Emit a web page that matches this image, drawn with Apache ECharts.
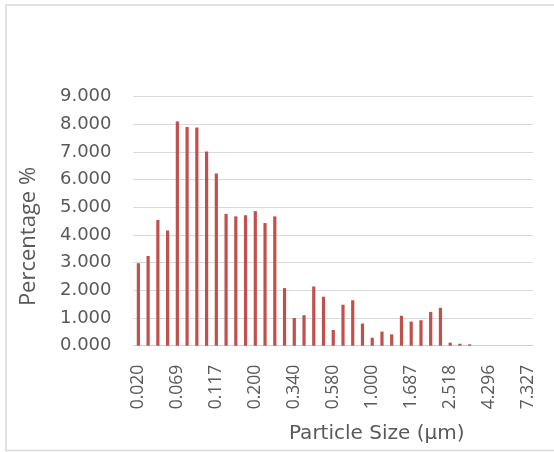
<!DOCTYPE html>
<html>
<head>
<meta charset="utf-8">
<script src="https://cdn.jsdelivr.net/npm/echarts@6/dist/echarts.min.js"></script>
<style>
html,body{margin:0;padding:0;background:#fff;}
#c{width:554px;height:452px;}
</style>
</head>
<body>
<div id="c"></div>
<script>
var categories = [
  '0.020','0.027','0.037','0.051',
  '0.069','0.079','0.090','0.103',
  '0.117','0.134','0.153','0.175',
  '0.200','0.228','0.261','0.298',
  '0.340','0.389','0.444','0.507',
  '0.580','0.665','0.762','0.873',
  '1.000','1.140','1.299','1.480',
  '1.687','1.865','2.061','2.278',
  '2.518','2.878','3.289','3.759',
  '4.296','4.910','5.611','6.412',
  '7.327'
];
var percentages = [
  2.98, 3.24, 4.54, 4.16,
  8.10, 7.90, 7.88, 7.01,
  6.22, 4.76, 4.67, 4.71,
  4.86, 4.43, 4.67, 2.08,
  1.00, 1.10, 2.14, 1.77,
  0.57, 1.48, 1.64, 0.80,
  0.29, 0.51, 0.41, 1.08,
  0.87, 0.92, 1.22, 1.37,
  0.11, 0.07, 0.05, 0,
  0, 0, 0, 0,
  0
];
var xTitle = 'Particle Size (μm)';
var yTitle = 'Percentage %';

var chart = echarts.init(document.getElementById('c'), null, {renderer:'canvas'});
chart.setOption({
  animation: false,
  backgroundColor: '#ffffff',
  grid: {left: 133.5, right: 21, top: 96.5, bottom: 106.3, containLabel: false},
  xAxis: {
    type: 'category',
    data: categories,
    boundaryGap: true,
    axisLine: {show: true, lineStyle: {color: '#d0d0d0', width: 1}},
    axisTick: {show: false},
    axisLabel: {
      interval: 3, rotate: 90, margin: 19,
      color: '#595959', fontFamily: 'Open Sans', fontSize: 17.5
    },
    splitLine: {show: false}
  },
  yAxis: {
    type: 'value',
    min: 0, max: 9, interval: 1,
    axisLine: {show: false},
    axisTick: {show: false},
    axisLabel: {
      margin: 22, color: '#595959', fontFamily: 'DejaVu Sans', fontSize: 18,
      formatter: function (v) { return v.toFixed(3); }
    },
    splitLine: {show: true, lineStyle: {color: '#d9d9d9', width: 1}}
  },
  series: [{
    type: 'bar',
    data: percentages,
    barWidth: 3.2,
    itemStyle: {color: '#C0504D'}
  }],
  graphic: [
    {type: 'rect', shape: {x: 6, y: 5, width: 560, height: 445.5},
     style: {fill: 'none', stroke: '#d9d9d9', lineWidth: 1.5}, silent: true},
    {type: 'text', x: 376.7, y: 434,
     style: {text: xTitle, fill: '#595959', font: '20px "DejaVu Sans"', textAlign: 'center', textVerticalAlign: 'middle'}},
    {type: 'text', x: 28.7, y: 236.5, rotation: Math.PI / 2,
     style: {text: yTitle, fill: '#595959', font: '22px "Open Sans"', textAlign: 'center', textVerticalAlign: 'middle'}}
  ]
});
</script>
</body>
</html>
